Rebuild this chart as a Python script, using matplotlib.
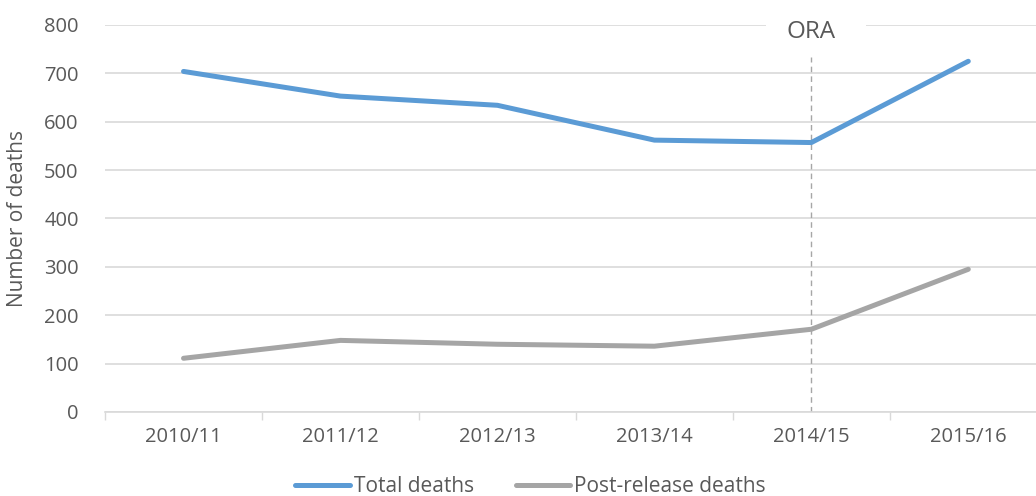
import numpy as np
import matplotlib.pyplot as plt
from matplotlib.patches import Rectangle

plt.rcParams['font.family'] = ['Open Sans', 'DejaVu Sans']

years = ["2010/11", "2011/12", "2012/13", "2013/14", "2014/15", "2015/16"]
total_deaths = [704, 653, 634, 562, 557, 725]
post_release = [111, 148, 140, 136, 171, 295]
ora_year = "2014/15"

text_col = '#595959'
grid_col = '#D9D9D9'

fig = plt.figure(figsize=(10.36, 4.96), dpi=100)
ax = fig.add_axes([0.1014, 0.1694, 0.909, 0.7802])

x = np.arange(len(years))
ax.plot(x, total_deaths, color='#5B9BD5', lw=3.6, solid_capstyle='round', label='Total deaths', zorder=3)
ax.plot(x, post_release, color='#A5A5A5', lw=3.6, solid_capstyle='round', label='Post-release deaths', zorder=3)

# ORA marker: dashed line + label on a white patch that hides the top gridline
xo = years.index(ora_year)
ax.plot([xo, xo], [0, 733], color='#A6A6A6', lw=1, ls=(0, (4, 3)), zorder=2)
ax.add_patch(Rectangle((xo - 0.29, 770), 0.64, 45, facecolor='white', edgecolor='none',
                       zorder=1.5, clip_on=False))
ax.text(xo, 785, "ORA", ha='center', va='center', fontsize=17.5, color=text_col, zorder=4)

ax.set_xlim(-0.5, len(years) - 0.5)
ax.set_ylim(0, 800)
ax.set_yticks(range(0, 801, 100))
ax.set_xticks(x)
ax.set_xticklabels(years)
ax.set_xticks(np.arange(-0.5, len(years)), minor=True)
ax.tick_params(axis='x', which='major', length=0, pad=11, labelsize=14.5, colors=text_col)
ax.tick_params(axis='x', which='minor', length=6, color=grid_col, width=1)
ax.tick_params(axis='y', length=0, pad=19, labelsize=14.5, colors=text_col)
ax.grid(axis='y', color=grid_col, lw=1.2, zorder=0)
ax.set_axisbelow(True)
for s in ['top', 'right', 'left']:
    ax.spines[s].set_visible(False)
ax.spines['bottom'].set_color(grid_col)
ax.spines['bottom'].set_linewidth(1.2)

ax.set_ylabel("Number of deaths", fontsize=15, color=text_col)
ax.yaxis.set_label_coords(-0.082, 0.5)

fig.legend(loc='lower center', bbox_to_anchor=(0.512, -0.04), ncol=2, frameon=False,
           fontsize=15, handlelength=2.6, columnspacing=2.0, handletextpad=0.2,
           labelcolor=text_col)

fig.savefig('out.png', dpi=100)
